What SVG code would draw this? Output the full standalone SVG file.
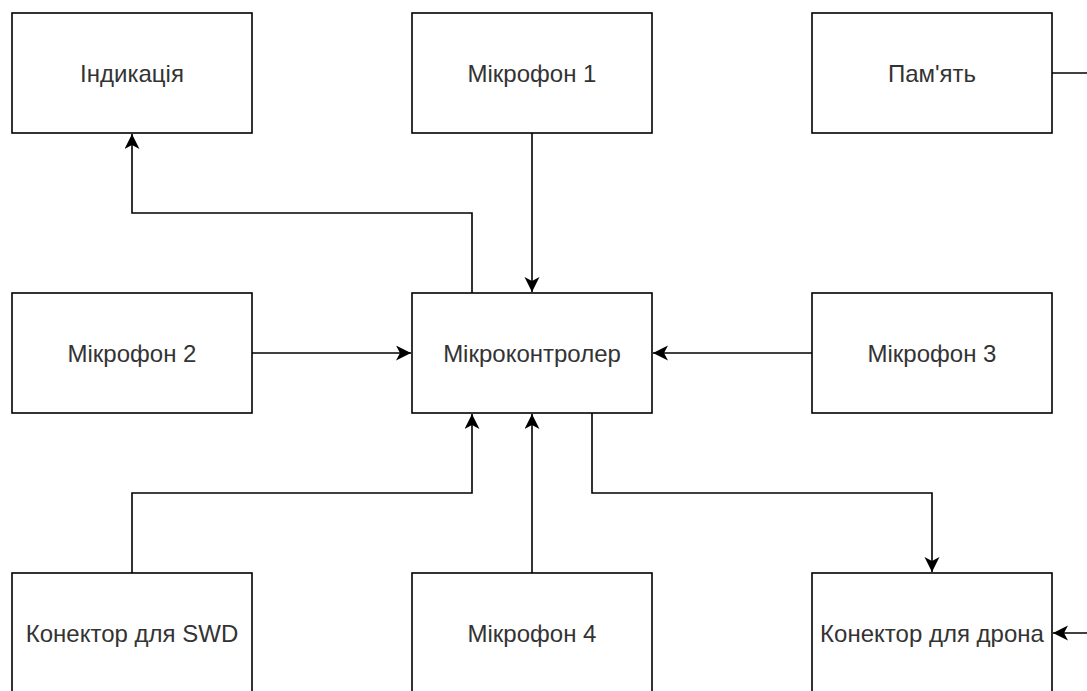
<svg xmlns="http://www.w3.org/2000/svg" width="1087" height="691" viewBox="0 0 1087 691">
<style>
.box{fill:#fff;stroke:#000;stroke-width:1.6}
.lbl{font-family:"Liberation Sans",Arial,sans-serif;font-size:24px;fill:#333;text-anchor:middle}
.edge{fill:none;stroke:#000;stroke-width:1.6}
.arr{marker-end:url(#ah)}
</style>
<defs>
<marker id="ah" markerUnits="userSpaceOnUse" markerWidth="16" markerHeight="16" viewBox="0 0 16 16" refX="15" refY="7.5" orient="auto">
<path d="M0,0 L15,7.5 L0,15 L4,7.5 z" fill="#000"/>
</marker>
</defs>
<rect width="1087" height="691" fill="#fff"/>
<g id="connectors">
<path class="edge arr" d="M472,293 V213 H132 V134"/>
<path class="edge arr" d="M532,133 V292"/>
<path class="edge arr" d="M252,353 H411"/>
<path class="edge arr" d="M812,353 H653"/>
<path class="edge arr" d="M132,573 V493 H472 V414"/>
<path class="edge arr" d="M532,573 V414"/>
<path class="edge arr" d="M592,413 V493 H932 V572"/>
<path class="edge" d="M1052,73 H1087"/>
<path class="edge arr" d="M1087,633 H1053"/>
</g>
<g id="indykatsiia"><rect class="box" x="12" y="13" width="240" height="120"/><text class="lbl" x="132" y="81.5">Індикація</text></g>
<g id="mikrofon1"><rect class="box" x="412" y="13" width="240" height="120"/><text class="lbl" x="532" y="81.5">Мікрофон 1</text></g>
<g id="pamiat"><rect class="box" x="812" y="13" width="240" height="120"/><text class="lbl" x="932" y="81.5">Пам'ять</text></g>
<g id="mikrofon2"><rect class="box" x="12" y="293" width="240" height="120"/><text class="lbl" x="132" y="361.5">Мікрофон 2</text></g>
<g id="mikrokontroler"><rect class="box" x="412" y="293" width="240" height="120"/><text class="lbl" x="532" y="361.5">Мікроконтролер</text></g>
<g id="mikrofon3"><rect class="box" x="812" y="293" width="240" height="120"/><text class="lbl" x="932" y="361.5">Мікрофон 3</text></g>
<g id="konektor_swd"><rect class="box" x="12" y="573" width="240" height="120"/><text class="lbl" x="132" y="641.5">Конектор для SWD</text></g>
<g id="mikrofon4"><rect class="box" x="412" y="573" width="240" height="120"/><text class="lbl" x="532" y="641.5">Мікрофон 4</text></g>
<g id="konektor_drona"><rect class="box" x="812" y="573" width="240" height="120"/><text class="lbl" x="932" y="641.5">Конектор для дрона</text></g>
</svg>
